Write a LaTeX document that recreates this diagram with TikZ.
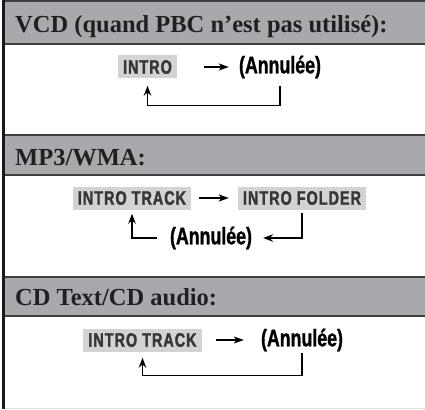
\documentclass[tikz,border=0pt]{standalone}
\usepackage{fontspec}
\setmainfont{Liberation Serif}
\newfontfamily\boxfont[FakeStretch=0.74,FakeBold=1.6,LetterSpace=5]{Liberation Sans}
\newfontfamily\cancelfont[FakeStretch=0.74,FakeBold=1.2]{Liberation Sans}
\usetikzlibrary{arrows.meta}
\definecolor{bandgray}{HTML}{A7A9AC}
\definecolor{keygray}{HTML}{D1D3D4}
\definecolor{ink}{HTML}{231F20}
\definecolor{rulegray}{HTML}{3F3F3F}
\tikzset{
  headband/.style = {fill=bandgray},
  headrule/.style = {rulegray,line width=1.8pt},
  headtext/.style = {anchor=base west,inner sep=0pt,text=ink,
                     font=\fontsize{24.5}{28}\selectfont\bfseries},
  keybox/.style   = {fill=keygray,text=ink!90,inner xsep=5pt,minimum height=23pt,
                     font=\boxfont\fontsize{19.5}{21}\selectfont\bfseries},
  cancel/.style   = {inner sep=0pt,text=black,
                     font=\cancelfont\fontsize{24}{26}\selectfont\bfseries},
  fwdarr/.style   = {-{Stealth[length=10pt,width=7pt,inset=2.5pt]},line width=1.5pt},
  backarr/.style  = {-{Stealth[length=10pt,width=7.5pt]},line width=1.3pt}
}

\begin{document}
\begin{tikzpicture}[x=1pt,y=-1pt]
  \useasboundingbox (0,0) rectangle (425,409);
  % grey title bands
  \foreach \top/\bot in {0.9/44, 135/175, 277/316} {
    \fill[headband] (3,\top) rectangle (425,\bot);
    \draw[headrule] (3,\top) -- (425,\top);
    \draw[headrule] (3,\bot) -- (425,\bot);
  }
  \draw[gray!25,line width=1pt] (3,408) -- (425,408);
  \draw[black!90,line width=3pt] (3,0) -- (3,409);

  \node[headtext] (vcdhead) at (15,33)  {VCD (quand PBC n’est pas utilisé):};
  \node[headtext] (mphead)  at (15,165) {MP3/WMA:};
  \node[headtext] (cdhead)  at (15,305) {CD Text/CD audio:};

  % VCD
  \node[keybox] (intro) at (147.5,67) {INTRO};
  \node[cancel] (annA)  at (280,67)   {(Annulée)};
  \draw[fwdarr,shorten <=27pt,shorten >=10pt] (intro) -- (annA);
  \draw[backarr] ([yshift=-8pt]annA.south) -- ++(0,19) -| ([yshift=-7pt]intro.south);

  % MP3/WMA
  \node[keybox] (track)  at (132,198) {INTRO TRACK};
  \node[keybox] (folder) at (302,198) {INTRO FOLDER};
  \node[cancel] (annB)   at (211,238) {(Annulée)};
  \draw[fwdarr,shorten <=8pt,shorten >=9pt] (track) -- (folder);
  \draw[backarr] ([yshift=-3pt]folder.south) |- ([xshift=11pt]annB.east);
  \draw[backarr] ([xshift=-13pt]annB.west) -| ([yshift=-4pt]track.south);

  % CD Text/CD audio
  \node[keybox] (trackC) at (142.5,340) {INTRO TRACK};
  \node[cancel] (annC)   at (302,340)   {(Annulée)};
  \draw[fwdarr,shorten <=14pt,shorten >=17pt] (trackC) -- (annC);
  \draw[backarr] ([yshift=-2pt]annC.south) -- ++(0,22) -| ([yshift=-6pt]trackC.south);
\end{tikzpicture}
\end{document}
